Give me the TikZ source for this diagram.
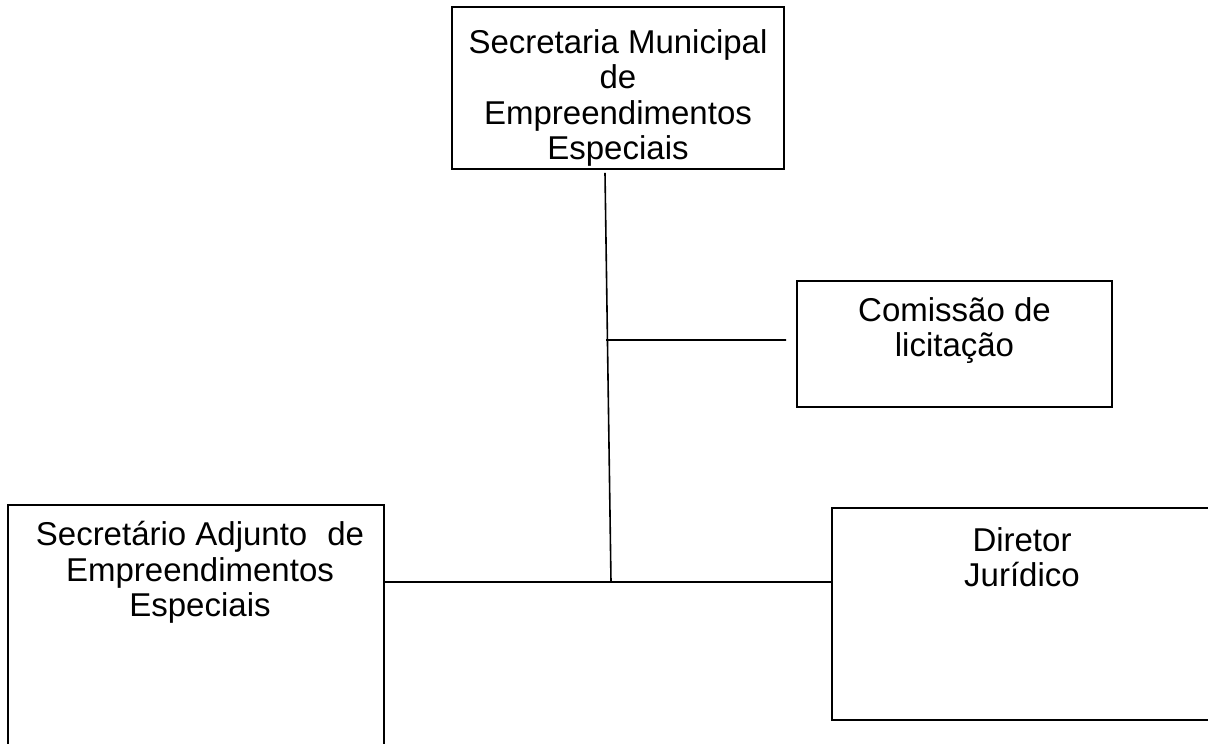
\documentclass[tikz,border=0pt]{standalone}
\usepackage{fontspec}
\setmainfont{Liberation Sans}
\usepackage{tikz}
\usetikzlibrary{positioning}
\usetikzlibrary{calc}

\begin{document}
\begin{tikzpicture}[
        x=1pt, y=-1pt,
        box/.style={rectangle, draw, line width=1.6pt, inner sep=0pt},
        txt/.style={align=center, inner sep=0pt, font=\fontsize{33}{35.5}\selectfont}
    ]
        \useasboundingbox (0,0) rectangle (1208,744);
        \node (Sec) [box, minimum width=332pt, minimum height=162pt] at (618,88) {};
        \node (Com) [box, minimum width=315pt, minimum height=126pt] at (954.5,344) {};
        \node (Adj) [box, minimum width=376pt, minimum height=270pt] at (196,640) {};
        \node (Jur) [box, minimum width=380pt, minimum height=212pt] at (1022,614) {};

        \node (SecT) [txt, below=23pt of Sec.north] {Secretaria Municipal\\de\\Empreendimentos\\Especiais};
        \node (ComT) [txt, below=17pt of Com.north] {Comissão de\\licitação};
        \node (AdjT) [txt, below=17pt of Adj.north, xshift=4pt] {Secretário Adjunto\hspace{20pt}de\\Empreendimentos\\Especiais};
        \node (JurT) [txt, below=20pt of Jur.north] {Diretor\\Jurídico};

        \coordinate (top) at ([xshift=-13pt, yshift=-3pt]Sec.south);
        \coordinate (branch) at (606,340);
        \coordinate (hub) at (611,582);

        \path[draw, line width=1.6pt]
            (top) -- (hub)
            (branch) -- ([xshift=-10pt]branch -| Com.west)
            (hub -| Adj.east) -- (hub -| Jur.west);
    \end{tikzpicture}
\end{document}
